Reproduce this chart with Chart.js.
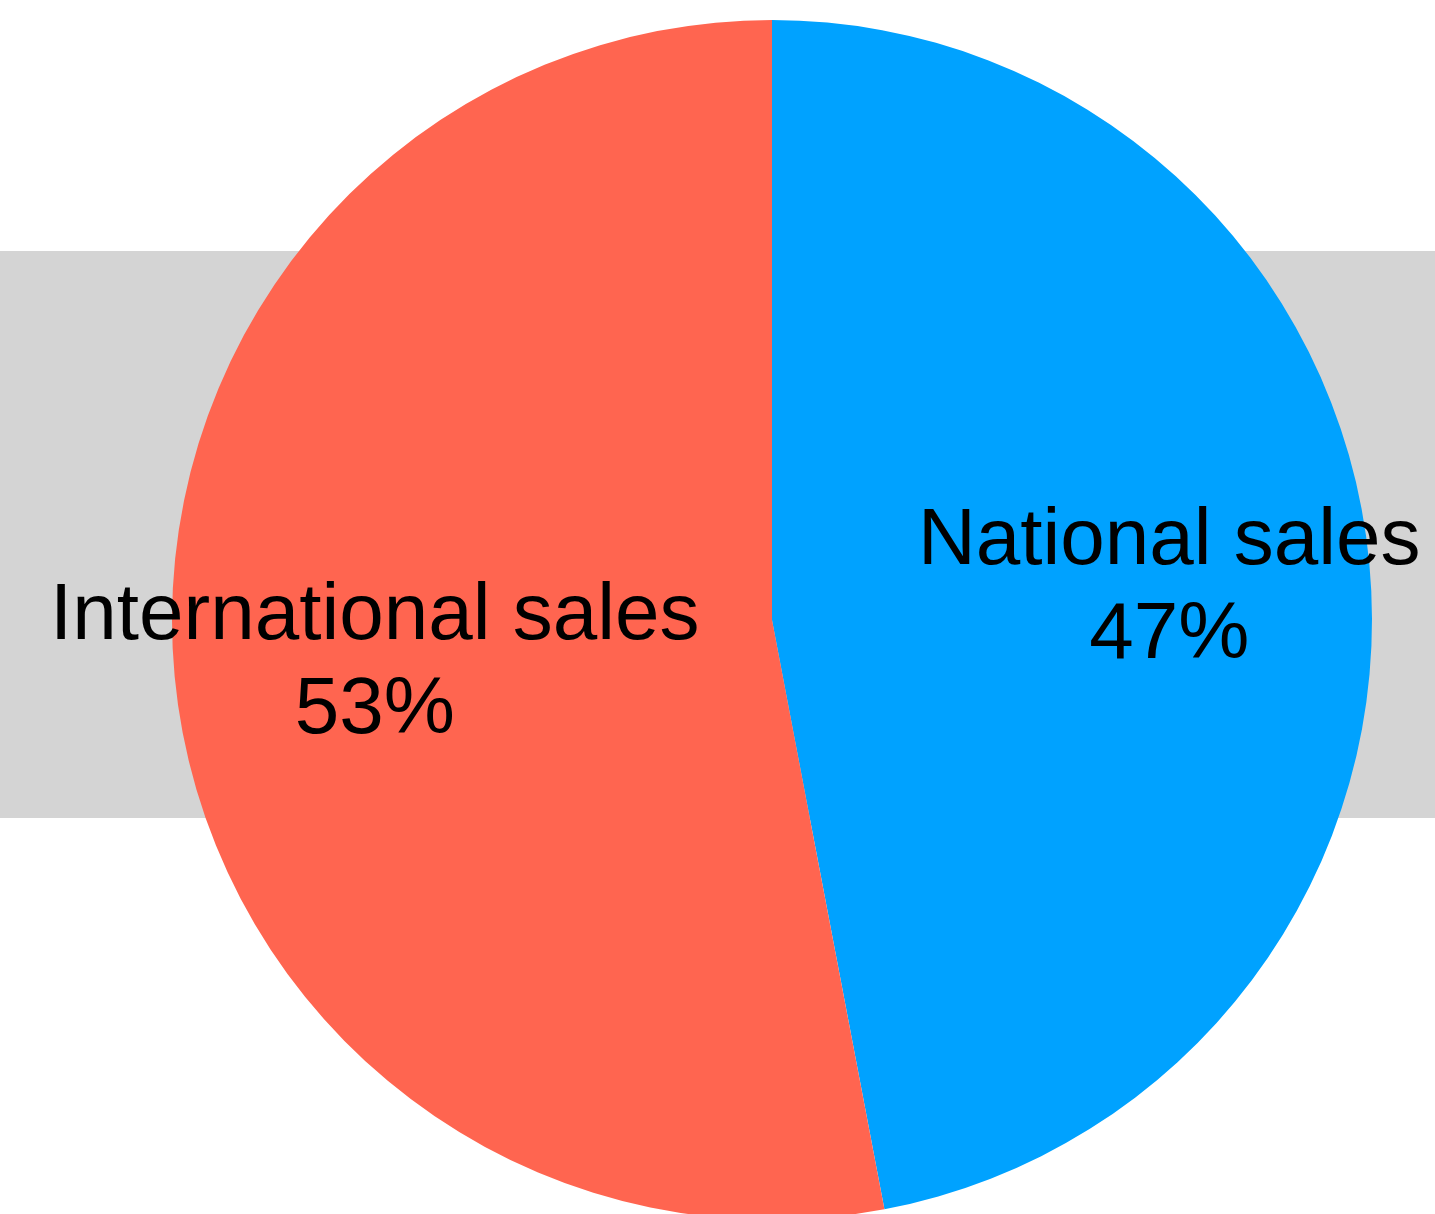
<!DOCTYPE html>
<html>
<head>
<meta charset="utf-8">
<script src="https://cdn.jsdelivr.net/npm/chart.js@4/dist/chart.umd.min.js"></script>
<style>
  html, body { margin: 0; padding: 0; background: #fff; overflow: hidden; }
  #wrap { width: 1435px; height: 1240px; position: relative; }
</style>
</head>
<body>
<div id="wrap"><canvas id="salesPie"></canvas></div>
<script>
// --- Datos ---
const categories = ['National sales', 'International sales'];
const shares = [47, 53];
const sliceColors = ['#00A2FF', '#FF6550'];

// banda gris detrás del gráfico
const bandPlugin = {
    id: 'band',
    beforeDraw(chart) {
        const ctx = chart.ctx;
        ctx.save();
        ctx.fillStyle = '#d4d4d4';
        ctx.fillRect(0, 251, chart.width, 567);
        ctx.restore();
    }
};

// etiquetas dentro de cada porción
const sliceLabels = {
    id: 'sliceLabels',
    afterDatasetsDraw(chart) {
        const ctx = chart.ctx;
        const meta = chart.getDatasetMeta(0);
        const total = shares.reduce((a, b) => a + b, 0);
        ctx.save();
        ctx.fillStyle = '#000';
        ctx.font = '80px Helvetica, "Liberation Sans", Arial, sans-serif';
        ctx.textAlign = 'center';
        ctx.textBaseline = 'middle';
        meta.data.forEach((arc, i) => {
            const p = arc.getProps(['x', 'y', 'startAngle', 'endAngle', 'outerRadius'], true);
            const mid = (p.startAngle + p.endAngle) / 2;
            const r = p.outerRadius * 0.665;
            const x = p.x + Math.cos(mid) * r;
            const y = p.y + Math.sin(mid) * r + 6;
            const pct = Math.round(shares[i] / total * 100) + '%';
            ctx.fillText(categories[i], x, y - 47);
            ctx.fillText(pct, x, y + 47);
        });
        ctx.restore();
    }
};

new Chart(document.getElementById('salesPie'), {
    type: 'pie',
    data: {
        labels: categories,
        datasets: [{
            data: shares,
            backgroundColor: sliceColors,
            borderWidth: 0
        }]
    },
    options: {
        responsive: true,
        maintainAspectRatio: false,
        animation: false,
        layout: { padding: { left: 172, right: 63, top: 20, bottom: 20 } },
        plugins: {
            legend: { display: false },
            tooltip: { enabled: false }
        }
    },
    plugins: [bandPlugin, sliceLabels]
});
</script>
</body>
</html>
